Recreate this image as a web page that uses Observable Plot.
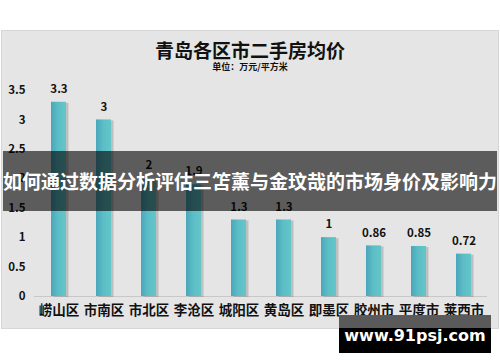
<!DOCTYPE html>
<html><head><meta charset="utf-8">
<script src="https://cdn.jsdelivr.net/npm/d3@7"></script>
<script src="https://cdn.jsdelivr.net/npm/@observablehq/plot@0.6"></script>
<style>
body{margin:0;background:#fff;font-family:"Noto Sans CJK SC",sans-serif;}
#wrap{position:relative;width:500px;height:362px;overflow:hidden;}
#panel{position:absolute;left:1px;top:30px;width:496px;height:297px;background:#e5e5e5;border:1px solid #d6d6d6;}
#chart{position:absolute;left:0;top:0;}
.t{position:absolute;left:0;width:500px;text-align:center;font-weight:bold;color:#111;}
#band{position:absolute;left:3px;top:151px;width:494px;height:60px;background:rgba(0,0,0,0.6);color:#fff;font-weight:bold;font-size:19px;line-height:60px;text-align:center;white-space:nowrap;letter-spacing:0px;}
#wm{position:absolute;left:339px;top:315px;width:152px;height:38px;background:linear-gradient(#5a5a5a 0 13px,#000 13px);color:#fff;font-family:"DejaVu Sans",sans-serif;font-weight:bold;font-size:16px;line-height:42px;text-align:center;}
</style></head>
<body>
<div id="wrap">
  <div id="panel"></div>
  <div id="chart"></div>
  <div class="t" style="top:36px;font-size:19px;line-height:28px;">青岛各区市二手房均价</div>
  <div class="t" style="top:61px;font-size:9px;line-height:12px;">单位：万元/平方米</div>
  <div id="band">如何通过数据分析评估三笘薰与金玟哉的市场身价及影响力</div>
  <div id="wm">www.91psj.com</div>
</div>
<script>
const districts = ["崂山区","市南区","市北区","李沧区","城阳区","黄岛区","即墨区","胶州市","平度市","莱西市"];
const prices = [3.3, 3, 2, 1.9, 1.3, 1.3, 1, 0.86, 0.85, 0.72];
const yTicks = [0, 0.5, 1, 1.5, 2, 2.5, 3, 3.5];

const data = districts.map((d, i) => ({district: d, price: prices[i]}));

const chart = Plot.plot({
  width: 500,
  height: 362,
  marginTop: 90,
  marginBottom: 66,
  marginLeft: 34,
  marginRight: 13,
  style: {background: "transparent", fontFamily: "'Noto Sans CJK SC', sans-serif"},
  x: {domain: districts, range: [34.4, 486.6], paddingInner: 0.67, paddingOuter: 0.335, label: null},
  y: {domain: [0, 3.5], label: null},
  marks: [
    Plot.axisY({ticks: yTicks, tickSize: 0, tickPadding: 9, tickFormat: d => String(d), fontSize: 11.5, fontWeight: "bold", fill: "#111", label: null}),
    Plot.axisX({tickSize: 0, tickPadding: 9, fontSize: 13.5, fontWeight: "bold", fill: "#111", label: null}),
    Plot.ruleY([0], {stroke: "#c8c8c8", strokeWidth: 1}),
    Plot.barY(data, {x: "district", y: "price", fill: "#777", fillOpacity: 0.35, dx: 2.5, dy: 1}),
    Plot.barY(data, {x: "district", y: "price", fill: "url(#barGrad)"}),
    Plot.text(data, {x: "district", y: "price", text: d => String(d.price), dy: -13, fontSize: 11.5, fontWeight: "bold", fill: "#111"})
  ]
});

const svg = d3.select(chart);
const defs = svg.insert("defs", ":first-child");
const g = defs.append("linearGradient").attr("id", "barGrad").attr("x1", "0").attr("x2", "1").attr("y1", "0").attr("y2", "0");
g.append("stop").attr("offset", "0%").attr("stop-color", "#4aa6bb");
g.append("stop").attr("offset", "50%").attr("stop-color", "#5dbfc6");
g.append("stop").attr("offset", "100%").attr("stop-color", "#62c6c9");

document.getElementById("chart").appendChild(chart);
</script>
</body></html>
